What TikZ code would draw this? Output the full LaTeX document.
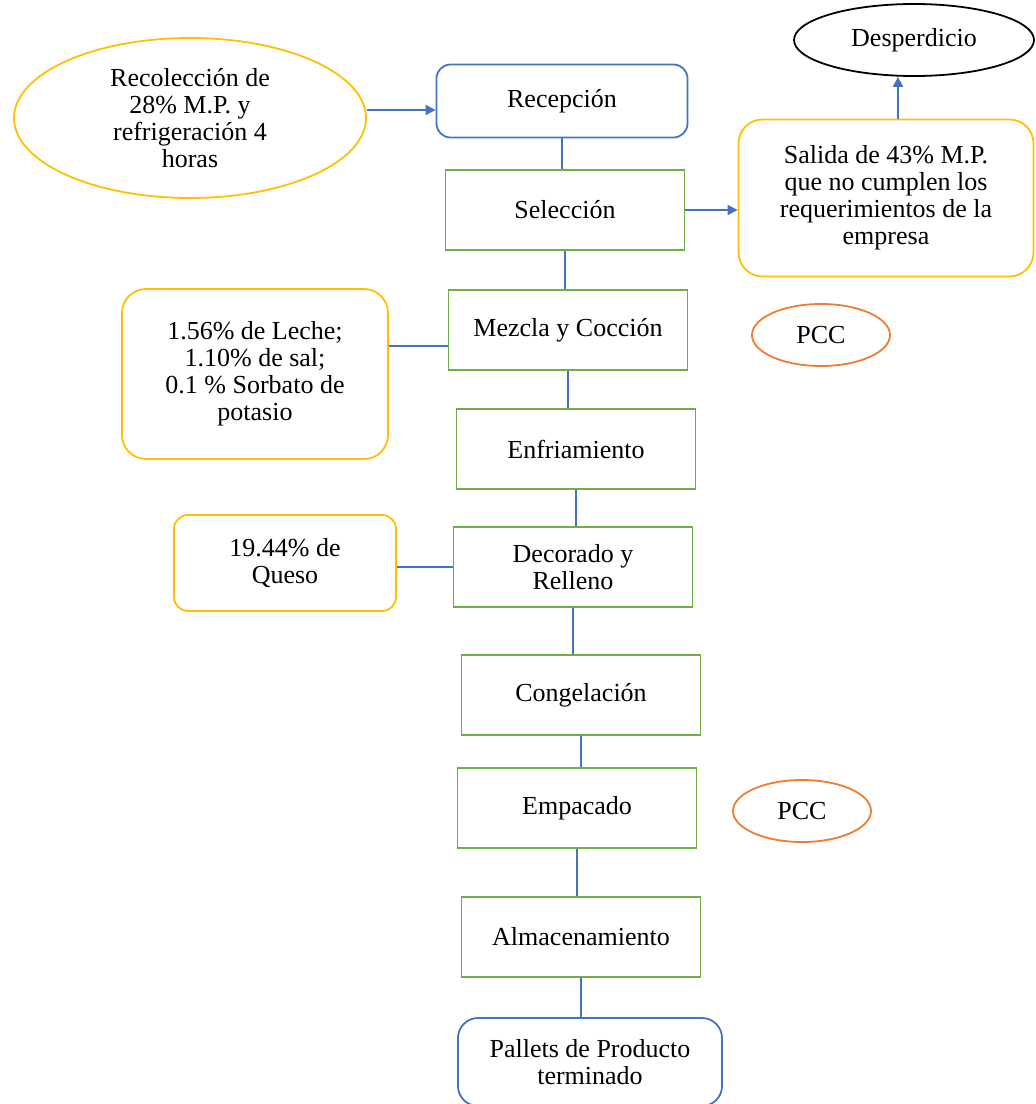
\documentclass[tikz,border=0pt]{standalone}
\usepackage{fontspec}
\setmainfont{Liberation Serif}
\usetikzlibrary{shapes.geometric,arrows.meta}
\definecolor{azul}{RGB}{68,114,196}
\definecolor{verde}{RGB}{112,173,71}
\definecolor{amarillo}{RGB}{255,192,0}
\definecolor{naranja}{RGB}{237,125,49}
\begin{document}
\begin{tikzpicture}[x=0.5pt,y=-0.5pt,
    every node/.style={font=\fontsize{13}{13.5}\selectfont,align=center,inner sep=0pt},
    paso/.style={draw=verde,line width=0.9pt,minimum width=119.5pt,minimum height=40pt},
    extremo/.style={draw=azul,line width=0.9pt,rounded corners=7pt},
    entrada/.style={draw=amarillo,line width=0.9pt,rounded corners=12pt},
    pcc/.style={draw=naranja,line width=0.9pt,ellipse,minimum width=69pt,minimum height=31pt},
    linea/.style={draw=azul,line width=0.9pt},
    flecha/.style={linea,-{Triangle[length=5pt,width=5pt]}}]
        \useasboundingbox (0,0) rectangle (1036,1104);
        % Entradas y salidas laterales
        \node[draw=amarillo,line width=0.9pt,ellipse,minimum width=176pt,minimum height=80pt] (recol) at (190,118){Recolección de\\ 28\% M.P. y\\ refrigeración 4\\ horas};
        \node[draw=black,line width=0.9pt,ellipse,minimum width=120pt,minimum height=36pt] (desp) at (914,40){Desperdicio};
        \node[entrada,minimum width=147.5pt,minimum height=78.5pt] (salida) at (886,198){Salida de 43\% M.P.\\ que no cumplen los\\ requerimientos de la\\ empresa};
        \node[entrada,minimum width=133pt,minimum height=85pt] (leche) at (255,374){1.56\% de Leche;\\ 1.10\% de sal;\\ 0.1 \% Sorbato de\\ potasio};
        \node[entrada,rounded corners=7pt,minimum width=111pt,minimum height=48pt] (queso) at (285,563){19.44\% de\\ Queso};
        \node[pcc] (pcca) at (821,335){PCC};
        \node[pcc] (pccb) at (802,811){PCC};

        % Proceso
        \node[extremo,minimum width=125.5pt,minimum height=36.5pt] (recep) at (562,101){Recepción};
        \node[paso] (selec) at (565,210){Selección};
        \node[paso] (mezcla) at (568,330){Mezcla y Cocción};
        \node[paso] (enfr) at (576,449){Enfriamiento};
        \node[paso] (decor) at (573,567){Decorado y\\ Relleno};
        \node[paso] (cong) at (581,695){Congelación};
        \node[paso] (empac) at (577,808){Empacado};
        \node[paso] (almac) at (581,937){Almacenamiento};
        \node[extremo,rounded corners=10pt,minimum width=132pt,minimum height=44pt] (pallet) at (590,1062){Pallets de Producto\\ terminado};

        % Conectores
        \foreach \a/\b in {recep/selec,selec/mezcla,mezcla/enfr,enfr/decor,decor/cong,cong/empac,empac/almac,almac/pallet}
          \draw[linea] (\a.south) -- (\a.south |- \b.north);
        \draw[flecha] ([yshift=4pt]recol.east) -- ([yshift=4pt]recol.east -| recep.west);
        \draw[flecha] (selec.east) -- (selec.east -| salida.west);
        \draw[flecha] ([xshift=6pt]salida.north) -- ([xshift=6pt]salida.north |- desp.south);
        \draw[linea] ([yshift=-8pt]mezcla.west) -- ([yshift=-8pt]mezcla.west -| leche.east);
        \draw[linea] (decor.west) -- (decor.west -| queso.east);
\end{tikzpicture}
\end{document}
